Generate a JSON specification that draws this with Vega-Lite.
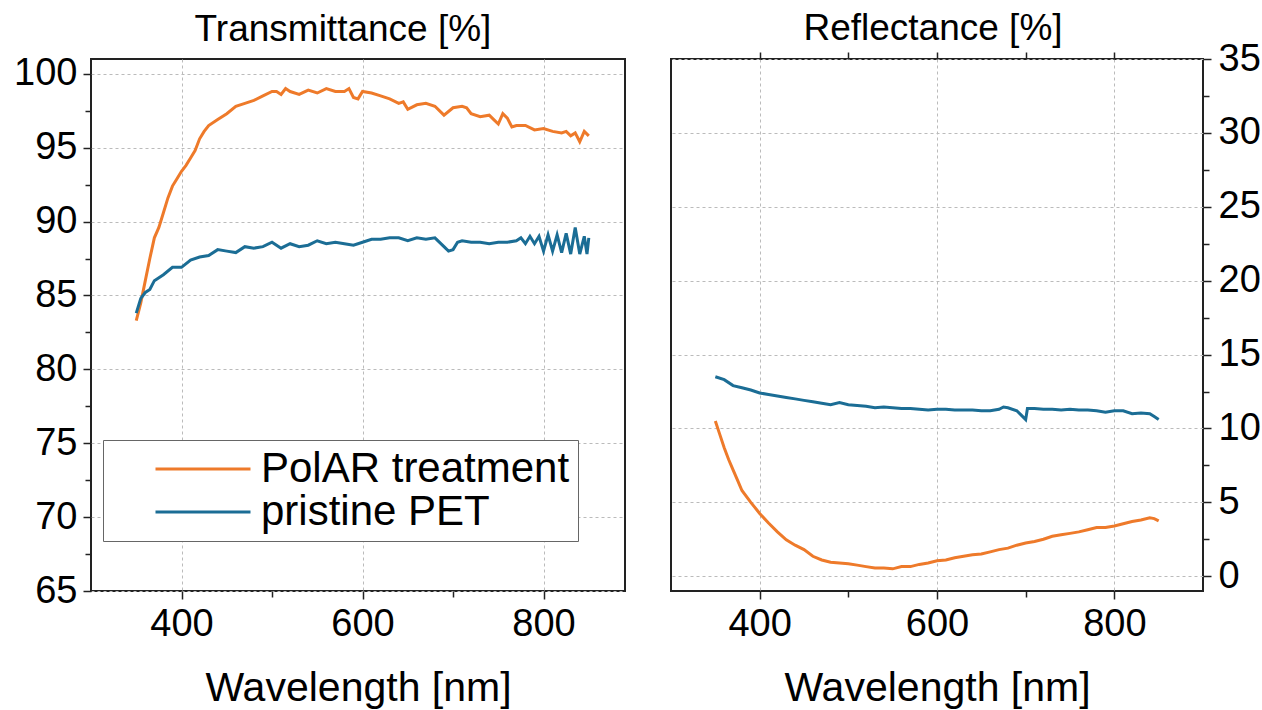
{
  "$schema": "https://vega.github.io/schema/vega-lite/v6.json",
  "autosize": {"type": "pad"},
  "padding": {"left": 12, "top": 9, "right": 0, "bottom": 0},
  "background": "white",
  "config": {
    "font": "Liberation Sans",
    "view": {"stroke": "#222", "strokeWidth": 2},
    "concat": {"spacing": 44},
    "axis": {
      "domain": false,
      "labelFont": "Liberation Sans",
      "labelFontSize": 38,
      "labelColor": "black",
      "labelOverlap": false,
      "tickColor": "#222",
      "tickWidth": 1.5,
      "tickSize": 8,
      "gridColor": "#bbbbbb",
      "gridDash": [3, 3],
      "gridWidth": 1,
      "titleFont": "Liberation Sans",
      "titleFontSize": 41,
      "titleFontWeight": "normal",
      "titleColor": "black"
    },
    "axisX": {"labelPadding": 6, "titlePadding": 25},
    "axisY": {"labelPadding": 6},
    "title": {"font": "Liberation Sans", "fontSize": 37, "fontWeight": "normal", "color": "black"}
  },
  "datasets": {
    "trans": [
      {"wl": 350, "v": 83.3, "s": "PolAR treatment"},
      {"wl": 355, "v": 84.5, "s": "PolAR treatment"},
      {"wl": 360, "v": 86.0, "s": "PolAR treatment"},
      {"wl": 365, "v": 87.5, "s": "PolAR treatment"},
      {"wl": 370, "v": 88.9, "s": "PolAR treatment"},
      {"wl": 375, "v": 89.6, "s": "PolAR treatment"},
      {"wl": 380, "v": 90.6, "s": "PolAR treatment"},
      {"wl": 385, "v": 91.6, "s": "PolAR treatment"},
      {"wl": 390, "v": 92.4, "s": "PolAR treatment"},
      {"wl": 395, "v": 92.9, "s": "PolAR treatment"},
      {"wl": 400, "v": 93.4, "s": "PolAR treatment"},
      {"wl": 405, "v": 93.8, "s": "PolAR treatment"},
      {"wl": 410, "v": 94.3, "s": "PolAR treatment"},
      {"wl": 415, "v": 94.8, "s": "PolAR treatment"},
      {"wl": 420, "v": 95.6, "s": "PolAR treatment"},
      {"wl": 425, "v": 96.1, "s": "PolAR treatment"},
      {"wl": 430, "v": 96.5, "s": "PolAR treatment"},
      {"wl": 440, "v": 96.9, "s": "PolAR treatment"},
      {"wl": 450, "v": 97.3, "s": "PolAR treatment"},
      {"wl": 460, "v": 97.8, "s": "PolAR treatment"},
      {"wl": 470, "v": 98.0, "s": "PolAR treatment"},
      {"wl": 480, "v": 98.2, "s": "PolAR treatment"},
      {"wl": 490, "v": 98.5, "s": "PolAR treatment"},
      {"wl": 500, "v": 98.8, "s": "PolAR treatment"},
      {"wl": 505, "v": 98.8, "s": "PolAR treatment"},
      {"wl": 510, "v": 98.6, "s": "PolAR treatment"},
      {"wl": 515, "v": 99.0, "s": "PolAR treatment"},
      {"wl": 520, "v": 98.8, "s": "PolAR treatment"},
      {"wl": 530, "v": 98.6, "s": "PolAR treatment"},
      {"wl": 540, "v": 98.9, "s": "PolAR treatment"},
      {"wl": 550, "v": 98.7, "s": "PolAR treatment"},
      {"wl": 560, "v": 99.0, "s": "PolAR treatment"},
      {"wl": 570, "v": 98.8, "s": "PolAR treatment"},
      {"wl": 580, "v": 98.8, "s": "PolAR treatment"},
      {"wl": 585, "v": 99.0, "s": "PolAR treatment"},
      {"wl": 590, "v": 98.4, "s": "PolAR treatment"},
      {"wl": 595, "v": 98.3, "s": "PolAR treatment"},
      {"wl": 600, "v": 98.8, "s": "PolAR treatment"},
      {"wl": 610, "v": 98.7, "s": "PolAR treatment"},
      {"wl": 620, "v": 98.5, "s": "PolAR treatment"},
      {"wl": 630, "v": 98.3, "s": "PolAR treatment"},
      {"wl": 640, "v": 98.0, "s": "PolAR treatment"},
      {"wl": 645, "v": 98.1, "s": "PolAR treatment"},
      {"wl": 650, "v": 97.6, "s": "PolAR treatment"},
      {"wl": 660, "v": 97.9, "s": "PolAR treatment"},
      {"wl": 670, "v": 98.0, "s": "PolAR treatment"},
      {"wl": 680, "v": 97.8, "s": "PolAR treatment"},
      {"wl": 690, "v": 97.2, "s": "PolAR treatment"},
      {"wl": 700, "v": 97.7, "s": "PolAR treatment"},
      {"wl": 710, "v": 97.8, "s": "PolAR treatment"},
      {"wl": 715, "v": 97.7, "s": "PolAR treatment"},
      {"wl": 720, "v": 97.3, "s": "PolAR treatment"},
      {"wl": 730, "v": 97.1, "s": "PolAR treatment"},
      {"wl": 740, "v": 97.2, "s": "PolAR treatment"},
      {"wl": 745, "v": 96.9, "s": "PolAR treatment"},
      {"wl": 750, "v": 96.6, "s": "PolAR treatment"},
      {"wl": 755, "v": 97.3, "s": "PolAR treatment"},
      {"wl": 760, "v": 97.0, "s": "PolAR treatment"},
      {"wl": 765, "v": 96.4, "s": "PolAR treatment"},
      {"wl": 770, "v": 96.5, "s": "PolAR treatment"},
      {"wl": 780, "v": 96.5, "s": "PolAR treatment"},
      {"wl": 790, "v": 96.2, "s": "PolAR treatment"},
      {"wl": 800, "v": 96.3, "s": "PolAR treatment"},
      {"wl": 810, "v": 96.1, "s": "PolAR treatment"},
      {"wl": 820, "v": 96.0, "s": "PolAR treatment"},
      {"wl": 825, "v": 96.1, "s": "PolAR treatment"},
      {"wl": 830, "v": 95.8, "s": "PolAR treatment"},
      {"wl": 835, "v": 96.0, "s": "PolAR treatment"},
      {"wl": 840, "v": 95.4, "s": "PolAR treatment"},
      {"wl": 845, "v": 96.1, "s": "PolAR treatment"},
      {"wl": 850, "v": 95.8, "s": "PolAR treatment"},
      {"wl": 350, "v": 83.8, "s": "pristine PET"},
      {"wl": 355, "v": 84.8, "s": "pristine PET"},
      {"wl": 360, "v": 85.2, "s": "pristine PET"},
      {"wl": 365, "v": 85.4, "s": "pristine PET"},
      {"wl": 370, "v": 86.0, "s": "pristine PET"},
      {"wl": 380, "v": 86.4, "s": "pristine PET"},
      {"wl": 390, "v": 86.9, "s": "pristine PET"},
      {"wl": 400, "v": 86.9, "s": "pristine PET"},
      {"wl": 410, "v": 87.4, "s": "pristine PET"},
      {"wl": 420, "v": 87.6, "s": "pristine PET"},
      {"wl": 430, "v": 87.7, "s": "pristine PET"},
      {"wl": 440, "v": 88.1, "s": "pristine PET"},
      {"wl": 450, "v": 88.0, "s": "pristine PET"},
      {"wl": 460, "v": 87.9, "s": "pristine PET"},
      {"wl": 470, "v": 88.3, "s": "pristine PET"},
      {"wl": 480, "v": 88.2, "s": "pristine PET"},
      {"wl": 490, "v": 88.3, "s": "pristine PET"},
      {"wl": 500, "v": 88.6, "s": "pristine PET"},
      {"wl": 510, "v": 88.2, "s": "pristine PET"},
      {"wl": 520, "v": 88.5, "s": "pristine PET"},
      {"wl": 530, "v": 88.3, "s": "pristine PET"},
      {"wl": 540, "v": 88.4, "s": "pristine PET"},
      {"wl": 550, "v": 88.7, "s": "pristine PET"},
      {"wl": 560, "v": 88.5, "s": "pristine PET"},
      {"wl": 570, "v": 88.6, "s": "pristine PET"},
      {"wl": 580, "v": 88.5, "s": "pristine PET"},
      {"wl": 590, "v": 88.4, "s": "pristine PET"},
      {"wl": 600, "v": 88.6, "s": "pristine PET"},
      {"wl": 610, "v": 88.8, "s": "pristine PET"},
      {"wl": 620, "v": 88.8, "s": "pristine PET"},
      {"wl": 630, "v": 88.9, "s": "pristine PET"},
      {"wl": 640, "v": 88.9, "s": "pristine PET"},
      {"wl": 650, "v": 88.7, "s": "pristine PET"},
      {"wl": 660, "v": 88.9, "s": "pristine PET"},
      {"wl": 670, "v": 88.8, "s": "pristine PET"},
      {"wl": 680, "v": 88.9, "s": "pristine PET"},
      {"wl": 690, "v": 88.3, "s": "pristine PET"},
      {"wl": 695, "v": 88.0, "s": "pristine PET"},
      {"wl": 700, "v": 88.1, "s": "pristine PET"},
      {"wl": 705, "v": 88.6, "s": "pristine PET"},
      {"wl": 710, "v": 88.7, "s": "pristine PET"},
      {"wl": 720, "v": 88.6, "s": "pristine PET"},
      {"wl": 730, "v": 88.6, "s": "pristine PET"},
      {"wl": 740, "v": 88.5, "s": "pristine PET"},
      {"wl": 750, "v": 88.6, "s": "pristine PET"},
      {"wl": 760, "v": 88.6, "s": "pristine PET"},
      {"wl": 770, "v": 88.7, "s": "pristine PET"},
      {"wl": 775, "v": 88.9, "s": "pristine PET"},
      {"wl": 780, "v": 88.5, "s": "pristine PET"},
      {"wl": 785, "v": 89.0, "s": "pristine PET"},
      {"wl": 790, "v": 88.5, "s": "pristine PET"},
      {"wl": 795, "v": 89.0, "s": "pristine PET"},
      {"wl": 800, "v": 88.0, "s": "pristine PET"},
      {"wl": 805, "v": 89.1, "s": "pristine PET"},
      {"wl": 810, "v": 88.0, "s": "pristine PET"},
      {"wl": 815, "v": 89.1, "s": "pristine PET"},
      {"wl": 820, "v": 87.9, "s": "pristine PET"},
      {"wl": 825, "v": 89.2, "s": "pristine PET"},
      {"wl": 830, "v": 87.8, "s": "pristine PET"},
      {"wl": 835, "v": 89.6, "s": "pristine PET"},
      {"wl": 840, "v": 87.8, "s": "pristine PET"},
      {"wl": 845, "v": 89.0, "s": "pristine PET"},
      {"wl": 848, "v": 87.8, "s": "pristine PET"},
      {"wl": 850, "v": 88.9, "s": "pristine PET"}
    ],
    "refl": [
      {"wl": 350, "v": 10.5, "s": "PolAR treatment"},
      {"wl": 355, "v": 9.6, "s": "PolAR treatment"},
      {"wl": 360, "v": 8.7, "s": "PolAR treatment"},
      {"wl": 365, "v": 7.9, "s": "PolAR treatment"},
      {"wl": 370, "v": 7.2, "s": "PolAR treatment"},
      {"wl": 375, "v": 6.5, "s": "PolAR treatment"},
      {"wl": 380, "v": 5.8, "s": "PolAR treatment"},
      {"wl": 390, "v": 5.0, "s": "PolAR treatment"},
      {"wl": 400, "v": 4.25, "s": "PolAR treatment"},
      {"wl": 410, "v": 3.6, "s": "PolAR treatment"},
      {"wl": 420, "v": 3.0, "s": "PolAR treatment"},
      {"wl": 430, "v": 2.46, "s": "PolAR treatment"},
      {"wl": 440, "v": 2.1, "s": "PolAR treatment"},
      {"wl": 450, "v": 1.8, "s": "PolAR treatment"},
      {"wl": 460, "v": 1.35, "s": "PolAR treatment"},
      {"wl": 470, "v": 1.1, "s": "PolAR treatment"},
      {"wl": 480, "v": 0.95, "s": "PolAR treatment"},
      {"wl": 490, "v": 0.9, "s": "PolAR treatment"},
      {"wl": 500, "v": 0.85, "s": "PolAR treatment"},
      {"wl": 510, "v": 0.75, "s": "PolAR treatment"},
      {"wl": 520, "v": 0.65, "s": "PolAR treatment"},
      {"wl": 530, "v": 0.55, "s": "PolAR treatment"},
      {"wl": 540, "v": 0.55, "s": "PolAR treatment"},
      {"wl": 550, "v": 0.5, "s": "PolAR treatment"},
      {"wl": 560, "v": 0.65, "s": "PolAR treatment"},
      {"wl": 570, "v": 0.65, "s": "PolAR treatment"},
      {"wl": 580, "v": 0.8, "s": "PolAR treatment"},
      {"wl": 590, "v": 0.9, "s": "PolAR treatment"},
      {"wl": 600, "v": 1.05, "s": "PolAR treatment"},
      {"wl": 610, "v": 1.1, "s": "PolAR treatment"},
      {"wl": 620, "v": 1.25, "s": "PolAR treatment"},
      {"wl": 630, "v": 1.35, "s": "PolAR treatment"},
      {"wl": 640, "v": 1.45, "s": "PolAR treatment"},
      {"wl": 650, "v": 1.5, "s": "PolAR treatment"},
      {"wl": 660, "v": 1.65, "s": "PolAR treatment"},
      {"wl": 670, "v": 1.8, "s": "PolAR treatment"},
      {"wl": 680, "v": 1.9, "s": "PolAR treatment"},
      {"wl": 690, "v": 2.1, "s": "PolAR treatment"},
      {"wl": 700, "v": 2.25, "s": "PolAR treatment"},
      {"wl": 710, "v": 2.35, "s": "PolAR treatment"},
      {"wl": 720, "v": 2.5, "s": "PolAR treatment"},
      {"wl": 730, "v": 2.7, "s": "PolAR treatment"},
      {"wl": 740, "v": 2.8, "s": "PolAR treatment"},
      {"wl": 750, "v": 2.9, "s": "PolAR treatment"},
      {"wl": 760, "v": 3.0, "s": "PolAR treatment"},
      {"wl": 770, "v": 3.15, "s": "PolAR treatment"},
      {"wl": 780, "v": 3.3, "s": "PolAR treatment"},
      {"wl": 790, "v": 3.3, "s": "PolAR treatment"},
      {"wl": 800, "v": 3.4, "s": "PolAR treatment"},
      {"wl": 810, "v": 3.55, "s": "PolAR treatment"},
      {"wl": 820, "v": 3.7, "s": "PolAR treatment"},
      {"wl": 830, "v": 3.8, "s": "PolAR treatment"},
      {"wl": 840, "v": 3.95, "s": "PolAR treatment"},
      {"wl": 845, "v": 3.9, "s": "PolAR treatment"},
      {"wl": 850, "v": 3.75, "s": "PolAR treatment"},
      {"wl": 350, "v": 13.5, "s": "pristine PET"},
      {"wl": 360, "v": 13.3, "s": "pristine PET"},
      {"wl": 370, "v": 12.9, "s": "pristine PET"},
      {"wl": 380, "v": 12.75, "s": "pristine PET"},
      {"wl": 390, "v": 12.6, "s": "pristine PET"},
      {"wl": 400, "v": 12.4, "s": "pristine PET"},
      {"wl": 410, "v": 12.3, "s": "pristine PET"},
      {"wl": 420, "v": 12.2, "s": "pristine PET"},
      {"wl": 430, "v": 12.1, "s": "pristine PET"},
      {"wl": 440, "v": 12.0, "s": "pristine PET"},
      {"wl": 450, "v": 11.9, "s": "pristine PET"},
      {"wl": 460, "v": 11.8, "s": "pristine PET"},
      {"wl": 470, "v": 11.7, "s": "pristine PET"},
      {"wl": 480, "v": 11.6, "s": "pristine PET"},
      {"wl": 490, "v": 11.75, "s": "pristine PET"},
      {"wl": 500, "v": 11.6, "s": "pristine PET"},
      {"wl": 510, "v": 11.55, "s": "pristine PET"},
      {"wl": 520, "v": 11.5, "s": "pristine PET"},
      {"wl": 530, "v": 11.4, "s": "pristine PET"},
      {"wl": 540, "v": 11.45, "s": "pristine PET"},
      {"wl": 550, "v": 11.4, "s": "pristine PET"},
      {"wl": 560, "v": 11.35, "s": "pristine PET"},
      {"wl": 570, "v": 11.35, "s": "pristine PET"},
      {"wl": 580, "v": 11.3, "s": "pristine PET"},
      {"wl": 590, "v": 11.25, "s": "pristine PET"},
      {"wl": 600, "v": 11.3, "s": "pristine PET"},
      {"wl": 610, "v": 11.3, "s": "pristine PET"},
      {"wl": 620, "v": 11.25, "s": "pristine PET"},
      {"wl": 630, "v": 11.25, "s": "pristine PET"},
      {"wl": 640, "v": 11.25, "s": "pristine PET"},
      {"wl": 650, "v": 11.2, "s": "pristine PET"},
      {"wl": 660, "v": 11.2, "s": "pristine PET"},
      {"wl": 670, "v": 11.3, "s": "pristine PET"},
      {"wl": 675, "v": 11.45, "s": "pristine PET"},
      {"wl": 680, "v": 11.4, "s": "pristine PET"},
      {"wl": 690, "v": 11.2, "s": "pristine PET"},
      {"wl": 695, "v": 10.9, "s": "pristine PET"},
      {"wl": 700, "v": 10.6, "s": "pristine PET"},
      {"wl": 702, "v": 11.35, "s": "pristine PET"},
      {"wl": 710, "v": 11.35, "s": "pristine PET"},
      {"wl": 720, "v": 11.3, "s": "pristine PET"},
      {"wl": 730, "v": 11.3, "s": "pristine PET"},
      {"wl": 740, "v": 11.25, "s": "pristine PET"},
      {"wl": 750, "v": 11.3, "s": "pristine PET"},
      {"wl": 760, "v": 11.25, "s": "pristine PET"},
      {"wl": 770, "v": 11.25, "s": "pristine PET"},
      {"wl": 780, "v": 11.2, "s": "pristine PET"},
      {"wl": 790, "v": 11.1, "s": "pristine PET"},
      {"wl": 800, "v": 11.2, "s": "pristine PET"},
      {"wl": 810, "v": 11.2, "s": "pristine PET"},
      {"wl": 820, "v": 11.0, "s": "pristine PET"},
      {"wl": 830, "v": 11.05, "s": "pristine PET"},
      {"wl": 840, "v": 11.0, "s": "pristine PET"},
      {"wl": 845, "v": 10.8, "s": "pristine PET"},
      {"wl": 850, "v": 10.6, "s": "pristine PET"}
    ]
  },
  "hconcat": [
    {
      "width": 534,
      "height": 532,
      "title": {"text": "Transmittance [%]", "frame": "group", "anchor": "middle", "offset": 6, "dx": -15},
      "data": {"name": "trans"},
      "mark": {"type": "line", "strokeWidth": 3, "clip": true},
      "encoding": {
        "x": {
          "field": "wl", "type": "quantitative",
          "scale": {"domain": [300, 890], "nice": false, "zero": false},
          "axis": {
            "title": "Wavelength [nm]",
            "values": [400, 500, 600, 700, 800],
            "labelExpr": "datum.value % 200 === 0 ? datum.label : ''",
            "gridOpacity": {"condition": {"test": "datum.value % 200 !== 0", "value": 0}, "value": 1},
            "tickSize": {"condition": {"test": "datum.value % 200 !== 0", "value": 6}, "value": 8}
          }
        },
        "y": {
          "field": "v", "type": "quantitative",
          "scale": {"domain": [65, 101], "nice": false, "zero": false},
          "axis": {
            "title": null,
            "format": "d",
            "values": [65, 67.5, 70, 72.5, 75, 77.5, 80, 82.5, 85, 87.5, 90, 92.5, 95, 97.5, 100],
            "labelExpr": "datum.value % 5 === 0 ? datum.label : ''",
            "gridOpacity": {"condition": {"test": "datum.value % 5 !== 0", "value": 0}, "value": 1},
            "tickSize": {"condition": {"test": "datum.value % 5 !== 0", "value": 6}, "value": 8}
          }
        },
        "color": {
          "field": "s", "type": "nominal",
          "scale": {"domain": ["PolAR treatment", "pristine PET"], "range": ["#EE7A2A", "#1B6D95"]},
          "legend": {
            "orient": "none", "legendX": 12, "legendY": 381,
            "title": null,
            "labelFont": "Liberation Sans", "labelFontSize": 42, "labelColor": "black", "labelLimit": 600,
            "labelExpr": "datum.label + '\u2003'",
            "symbolType": "M-4,0H4", "symbolSize": 564, "symbolStrokeWidth": 3,
            "symbolOffset": 71, "labelOffset": 37,
            "padding": 8, "rowPadding": 1,
            "strokeColor": "#666", "fillColor": "white"
          }
        }
      }
    },
    {
      "width": 532,
      "height": 532,
      "title": {"text": "Reflectance [%]", "frame": "group", "anchor": "middle", "offset": -8, "dx": -4},
      "data": {"name": "refl"},
      "encoding": {
        "y": {
          "field": "v", "type": "quantitative",
          "scale": {"domain": [-1, 35], "nice": false, "zero": false},
          "axis": {
            "orient": "right",
            "title": null,
            "format": "d",
            "values": [0, 2.5, 5, 7.5, 10, 12.5, 15, 17.5, 20, 22.5, 25, 27.5, 30, 32.5, 35],
            "labelExpr": "datum.value % 5 === 0 ? datum.label : ''",
            "labelPadding": 7,
            "gridOpacity": {"condition": {"test": "datum.value % 5 !== 0", "value": 0}, "value": 1},
            "tickSize": {"condition": {"test": "datum.value % 5 !== 0", "value": 6}, "value": 8}
          }
        }
      },
      "layer": [
        {
          "mark": {"type": "line", "strokeWidth": 3, "clip": true},
          "encoding": {
            "x": {
              "field": "wl", "type": "quantitative",
              "scale": {"domain": [300, 900], "nice": false, "zero": false},
              "axis": {
                "title": "Wavelength [nm]",
                "values": [400, 500, 600, 700, 800],
                "labelExpr": "datum.value % 200 === 0 ? datum.label : ''",
                "gridOpacity": {"condition": {"test": "datum.value % 200 !== 0", "value": 0}, "value": 1},
                "tickSize": {"condition": {"test": "datum.value % 200 !== 0", "value": 6}, "value": 8}
              }
            },
            "color": {
              "field": "s", "type": "nominal",
              "scale": {"domain": ["PolAR treatment", "pristine PET"], "range": ["#EE7A2A", "#1B6D95"]},
              "legend": null
            }
          }
        },
        {
          "mark": {"type": "line", "strokeOpacity": 0, "clip": true},
          "encoding": {
            "x": {
              "field": "wl", "type": "quantitative",
              "axis": {"orient": "top", "title": null, "labels": false, "grid": false, "tickSize": 7, "values": [400, 500, 600, 700, 800]}
            }
          }
        }
      ],
      "resolve": {"axis": {"x": "independent"}}
    }
  ],
  "resolve": {"scale": {"color": "independent"}, "legend": {"color": "independent"}}
}
